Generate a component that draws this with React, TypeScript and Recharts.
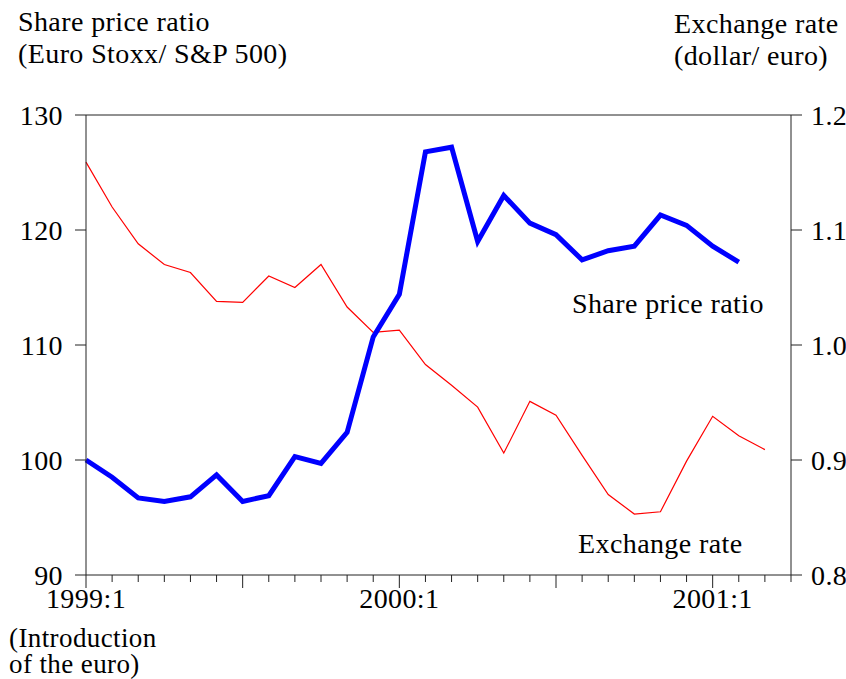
import React from 'react';
import { LineChart, Line, XAxis, YAxis, ReferenceLine } from 'recharts';

// monthly observations, 1999:1 .. 2001:4
const months: string[] = [
  '1999:1', '1999:2', '1999:3', '1999:4', '1999:5', '1999:6', '1999:7', '1999:8', '1999:9', '1999:10', '1999:11', '1999:12',
  '2000:1', '2000:2', '2000:3', '2000:4', '2000:5', '2000:6', '2000:7', '2000:8', '2000:9', '2000:10', '2000:11', '2000:12',
  '2001:1', '2001:2', '2001:3', '2001:4',
];

const sharePriceRatio: (number | null)[] = [
  100.0, 98.5, 96.7, 96.4, 96.8, 98.7, 96.4, 96.9, 100.3, 99.7, 102.4, 110.7,
  114.4, 126.8, 127.2, 119.0, 123.0, 120.6, 119.6, 117.4, 118.2, 118.6, 121.3, 120.4,
  118.6, 117.2, null, null,
];

const exchangeRate: (number | null)[] = [
  1.159, 1.120, 1.088, 1.070, 1.063, 1.038, 1.037, 1.060, 1.050, 1.070, 1.033, 1.011,
  1.013, 0.983, 0.965, 0.946, 0.906, 0.951, 0.939, 0.904, 0.870, 0.853, 0.855, 0.899,
  0.938, 0.921, 0.909, null,
];

const leftTicks = [90, 100, 110, 120, 130];
const rightTicks = [0.8, 0.9, 1.0, 1.1, 1.2];

const data = months.map((m, i) => ({
  month: m,
  ratio: sharePriceRatio[i],
  fx: exchangeRate[i],
}));

const FONT = '"Liberation Serif", "Times New Roman", serif';
const FS = 28;
const LS = 0.4;

const MonthTick = (props: any) => {
  const { x, y, payload } = props;
  const month = String(payload.value).split(':')[1];
  const major = month === '1' || month === '7';
  return (
    <g>
      <line x1={x} x2={x} y1={y} y2={y + (major ? 13 : 7)} stroke="#222" strokeWidth={1} />
      {month === '1' && (
        <text x={x} y={y + 33} textAnchor="middle" fontFamily={FONT} fontSize={FS} letterSpacing={LS} fill="#000">
          {payload.value}
        </text>
      )}
    </g>
  );
};

const textStyle: React.CSSProperties = {
  position: 'absolute',
  fontFamily: FONT,
  fontSize: FS,
  letterSpacing: LS,
  lineHeight: '32px',
  color: '#000',
  whiteSpace: 'nowrap',
};

export default function App() {
  return (
    <div style={{ position: 'absolute', left: 0, top: 0, width: 846, height: 679, background: '#fff', overflow: 'hidden' }}>
      <LineChart width={846} height={679} data={data} margin={{ top: 115, right: 0, bottom: 0, left: 0 }}>
        <XAxis
          dataKey="month"
          interval={0}
          height={104}
          tickSize={0}
          tickMargin={0}
          tick={<MonthTick />}
          stroke="#222"
          padding={{ left: 0, right: 0 }}
        />
        <YAxis
          yAxisId="left"
          orientation="left"
          width={86}
          domain={[90, 130]}
          ticks={leftTicks}
          tickSize={11}
          tickMargin={12}
          stroke="#222"
          tick={{ fill: '#000', fontFamily: FONT, fontSize: FS, letterSpacing: LS }}
        />
        <YAxis
          yAxisId="right"
          orientation="right"
          width={55}
          domain={[0.8, 1.2]}
          ticks={rightTicks}
          tickSize={11}
          tickMargin={9}
          stroke="#222"
          tickFormatter={(v: number) => v.toFixed(1)}
          tick={{ fill: '#000', fontFamily: FONT, fontSize: FS, letterSpacing: LS }}
        />
        <ReferenceLine yAxisId="left" y={130} stroke="#222" strokeWidth={1} />
        <Line
          yAxisId="right"
          dataKey="fx"
          stroke="#ff0000"
          strokeWidth={1.2}
          dot={false}
          isAnimationActive={false}
        />
        <Line
          yAxisId="left"
          dataKey="ratio"
          stroke="#0000ff"
          strokeWidth={5}
          dot={false}
          strokeLinejoin="miter"
          isAnimationActive={false}
        />
      </LineChart>

      <div style={{ ...textStyle, left: 18, top: 6 }}>
        Share price ratio<br />(Euro Stoxx/ S&amp;P 500)
      </div>
      <div style={{ ...textStyle, left: 674, top: 8, lineHeight: '32px' }}>
        Exchange rate<br />(dollar/ euro)
      </div>
      <div style={{ ...textStyle, left: 572, top: 288 }}>Share price ratio</div>
      <div style={{ ...textStyle, left: 578, top: 528 }}>Exchange rate</div>
      <div style={{ ...textStyle, left: 9, top: 625, fontSize: 27, lineHeight: '26px' }}>
        (Introduction<br />of the euro)
      </div>
    </div>
  );
}
